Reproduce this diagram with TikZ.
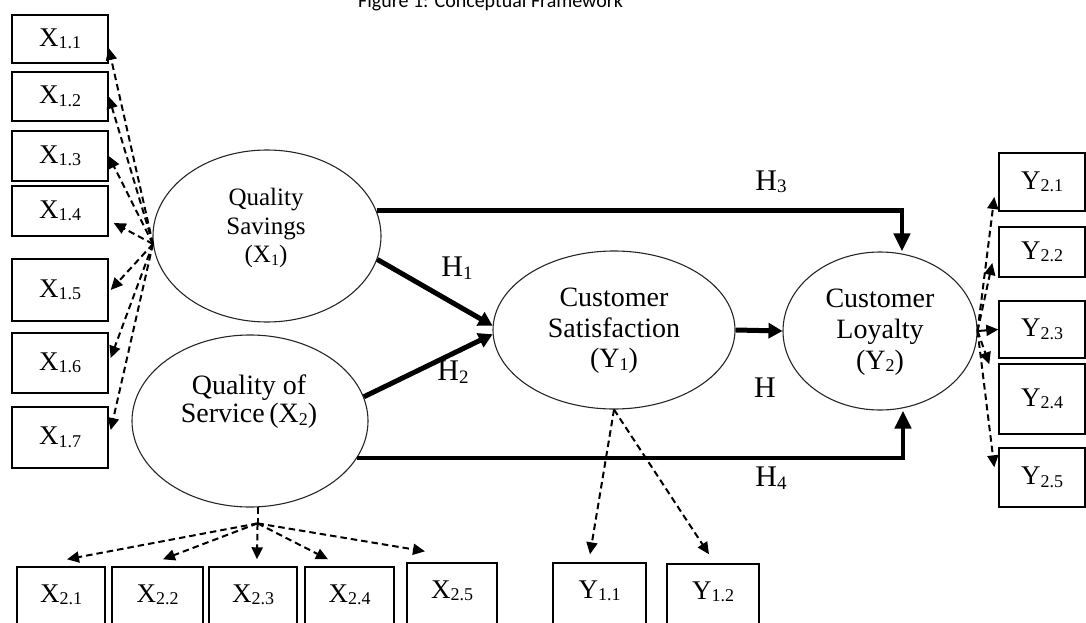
\documentclass[tikz,border=0pt]{standalone}
\usepackage{fontspec}
\setmainfont{Liberation Serif}
\newfontfamily\titlefont{Carlito}
\usetikzlibrary{shapes.geometric,arrows.meta,calc}
\newcommand\lsub[2][18]{\raisebox{-2.5pt}{\fontsize{#1}{#1}\selectfont #2}}
\begin{document}
\begin{tikzpicture}[x=1pt,y=-1pt,
  ind/.style={draw,line width=1.4pt,inner sep=0pt,font=\fontsize{27}{27}\selectfont},
  bot/.style={ind,minimum height=70pt,text height=30pt,text depth=30pt},
  lat/.style={draw=black!85,line width=1.1pt,ellipse,inner sep=0pt},
  lattxt/.style={align=center,inner sep=0pt},
  dsh/.style={line width=2pt,dash pattern=on 6.5pt off 4pt,-{Triangle[length=12pt,width=11pt]}},
  sol/.style={line width=2pt,-{Triangle[length=12pt,width=11pt]}},
  thk/.style={line width=5pt,-{Triangle[length=14pt,width=15pt]}},
  elbowarrow/.style={line width=4.5pt,-{Triangle[length=18pt,width=16pt]}},
  hlab/.style={inner sep=0pt,font=\fontsize{30}{30}\selectfont}]
\useasboundingbox (0,0) rectangle (1086,623);

% title (cut off at top, as in the source)
\node[font=\titlefont\fontsize{20}{20}\selectfont,anchor=base west,inner sep=0pt] (title) at (358,7.5) {Figure 1: Conceptual Framework};

% latent variables
\node[lat,minimum width=228pt,minimum height=172pt] (qs) at (267,236) {};
\node[lattxt,font=\fontsize{25}{28.5}\selectfont] (qst) at (266,228) {Quality\\Savings\\(X\lsub[16]{1})};
\node[lat,minimum width=236pt,minimum height=172pt] (qos) at (250,421) {};
\node[lattxt,font=\fontsize{28}{28}\selectfont] (qost) at (249,402) {Quality of\\Service\,(X\lsub[18]{2})};
\node[lat,minimum width=242pt,minimum height=158pt] (cs) at (614,330) {};
\node[lattxt,font=\fontsize{28}{30.5}\selectfont] (cst) at (614,331) {Customer\\Satisfaction\\(Y\lsub[18]{1})};
\node[lat,minimum width=194pt,minimum height=158pt] (cl) at (880,331) {};
\node[lattxt,font=\fontsize{28}{31}\selectfont] (clt) at (880,332) {Customer\\Loyalty\\(Y\lsub[18]{2})};

% left indicator boxes
\node[ind,minimum width=96pt,minimum height=48pt] (x11) at (60,39) {X\lsub{1.1}};
\node[ind,minimum width=96pt,minimum height=49pt] (x12) at (60,96.5) {X\lsub{1.2}};
\node[ind,minimum width=96pt,minimum height=50pt] (x13) at (60,156) {X\lsub{1.3}};
\node[ind,minimum width=96pt,minimum height=50pt] (x14) at (60,211) {X\lsub{1.4}};
\node[ind,minimum width=96pt,minimum height=62pt] (x15) at (60,290) {X\lsub{1.5}};
\node[ind,minimum width=96pt,minimum height=60pt] (x16) at (60,363) {X\lsub{1.6}};
\node[ind,minimum width=96pt,minimum height=61pt] (x17) at (60,437.5) {X\lsub{1.7}};

% bottom indicator boxes (run off the lower edge)
\node[bot,minimum width=88pt] (x21) at (61,602) {X\lsub{2.1}};
\node[bot,minimum width=91pt] (x22) at (157.5,602) {X\lsub{2.2}};
\node[bot,minimum width=88pt] (x23) at (253,602) {X\lsub{2.3}};
\node[bot,minimum width=89pt] (x24) at (349.5,602) {X\lsub{2.4}};
\node[bot,minimum width=90pt] (x25) at (452,598) {X\lsub{2.5}};
\node[bot,minimum width=93pt] (y11) at (599.5,598) {Y\lsub{1.1}};
\node[bot,minimum width=92pt] (y12) at (713,599) {Y\lsub{1.2}};

% right indicator boxes
\node[ind,minimum width=86pt,minimum height=58pt] (y21) at (1042,182) {Y\lsub{2.1}};
\node[ind,minimum width=86pt,minimum height=50pt] (y22) at (1042,252) {Y\lsub{2.2}};
\node[ind,minimum width=86pt,minimum height=57pt] (y23) at (1042,329.5) {Y\lsub{2.3}};
\node[ind,minimum width=86pt,minimum height=70pt] (y24) at (1042,399) {Y\lsub{2.4}};
\node[ind,minimum width=86pt,minimum height=59pt] (y25) at (1042,477.5) {Y\lsub{2.5}};

% X1 indicators
\draw[dsh] (qs.184) -- ([yshift=-9pt]x11.east);
\draw[dsh] (qs.184) -- (x12.east);
\draw[dsh] (qs.184) -- (x13.east);
\draw[dsh] (qs.184) -- ([shift={(5pt,-12pt)}]x14.east);
\draw[dsh] (qs.184) -- ([xshift=2pt]x15.east);
\draw[dsh] (qs.184) -- ([shift={(2pt,5pt)}]x16.east);
\draw[dsh] (qs.184) -- ([shift={(2pt,7.5pt)}]x17.east);

% X2 indicators
\coordinate (fan) at ([yshift=-16pt]qos.-85);
\draw[line width=2pt,dash pattern=on 6.5pt off 4pt] (qos.-85) -- (fan);
\draw[dsh] (fan) -- ([shift={(6pt,7pt)}]x21.north);
\draw[dsh] (fan) -- ([shift={(5.5pt,7pt)}]x22.north);
\draw[dsh] (fan) -- ([shift={(4pt,7pt)}]x23.north);
\draw[dsh] (fan) -- ([shift={(-21.5pt,7pt)}]x24.north);
\draw[dsh] (fan) -- ([shift={(-27pt,11pt)}]x25.north);

% Y1 indicators
\draw[dsh] (cs.south) -- ([shift={(-9.5pt,8pt)}]y11.north);
\draw[dsh] (cs.south) -- ([shift={(-4pt,9pt)}]y12.north);

% Y2 indicators
\draw[dsh] (cl.east) -- ([shift={(-4pt,-15pt)}]y21.west);
\draw[dsh] (cl.east) -- ([shift={(-6pt,-11pt)}]y22.west);
\draw[sol] (cl.east) -- (y23.west);
\draw[dsh] (cl.east) -- ([shift={(-9pt,-1pt)}]y24.north west);
\draw[dsh] (cl.east) -- ([shift={(-4pt,-20pt)}]y25.north west);

% structural paths
\draw[thk] (qs.-12) -- (cs.178);
\draw[thk] (qos.12) -- (cs.182);
\draw[elbowarrow] (qs.13) -| ([xshift=22pt]cl.north);
\draw[elbowarrow] (qos.-19) -| ([xshift=23pt]cl.south);
\draw[thk] (cs.east) -- (cl.west);

% hypothesis labels
\node[hlab] (h1) at (457,268) {H\lsub[19]{1}};
\node[hlab] (h2) at (453,372) {H\lsub[19]{2}};
\node[hlab] (h3) at (771,182) {H\lsub[19]{3}};
\node[hlab] (h) at (765,388) {H};
\node[hlab] (h4) at (771,478) {H\lsub[19]{4}};
\end{tikzpicture}
\end{document}
